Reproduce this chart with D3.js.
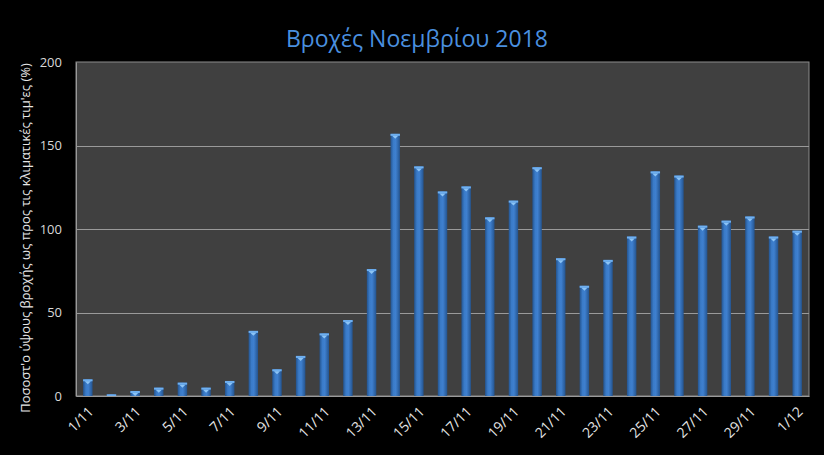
<!DOCTYPE html>
<html><head><meta charset="utf-8">
<script src="https://cdn.jsdelivr.net/npm/d3@7"></script>
<style>html,body{margin:0;padding:0;background:#000;}svg{display:block;}</style>
</head><body>
<svg id="chart" width="824" height="455"></svg>
<script>
const title = "Βροχές Νοεμβρίου 2018";
const yLabel = "Ποσοστ'ο ύψους βροχής ως προς τις κλιματικές τιμ'ες (%)";
const categories = ["1/11","2/11","3/11","4/11","5/11","6/11","7/11","8/11","9/11","10/11","11/11","12/11","13/11","14/11","15/11","16/11","17/11","18/11","19/11","20/11","21/11","22/11","23/11","24/11","25/11","26/11","27/11","28/11","29/11","30/11","1/12"];
const values = [10,1,3,5,8,5,9,39,16,24,37.5,45.5,76,157,137.5,122.5,125.5,107,117,137,82.5,66,81.5,95.5,134.5,132,102,105,107.5,95.5,99];
const yTicks = [0,50,100,150,200];

const svg = d3.select("#chart");
const m = {l:76, r:809, t:62, b:396};
const x = d3.scaleBand().domain(categories).range([m.l, m.r]).paddingInner(0.6).paddingOuter(0.3);
const y = d3.scaleLinear().domain([0,200]).range([m.b, m.t]);

const defs = svg.append("defs");
const g1 = defs.append("linearGradient").attr("id","barGrad").attr("x1","0").attr("x2","1").attr("y1","0").attr("y2","0");
g1.append("stop").attr("offset","0%").attr("stop-color","#24548f");
g1.append("stop").attr("offset","30%").attr("stop-color","#3a7bc8");
g1.append("stop").attr("offset","55%").attr("stop-color","#3f80cf");
g1.append("stop").attr("offset","100%").attr("stop-color","#24548f");

svg.append("rect").attr("x",0).attr("y",0).attr("width",824).attr("height",455).attr("fill","#000");
svg.append("text").attr("x",417).attr("y",47).attr("text-anchor","middle")
  .attr("font-family","'Open Sans', 'DejaVu Sans', sans-serif").attr("font-size",23)
  .attr("fill","#4a8fdf").text(title);

// plot area
svg.append("rect").attr("x",m.l).attr("y",m.t).attr("width",m.r-m.l).attr("height",m.b-m.t)
  .attr("fill","#404040").attr("stroke","#8c8c8c").attr("stroke-width",1);

// gridlines
svg.append("g").selectAll("line").data(yTicks.filter(d=>d>0 && d<200)).join("line")
  .attr("x1",m.l).attr("x2",m.r).attr("y1",d=>Math.round(y(d))+0.5).attr("y2",d=>Math.round(y(d))+0.5)
  .attr("stroke","#9a9a9a").attr("stroke-width",1);

// y axis
const yAxis = svg.append("g").attr("transform",`translate(${m.l},0)`)
  .call(d3.axisLeft(y).tickValues(yTicks).tickSize(0).tickPadding(14));
yAxis.select(".domain").attr("stroke","#9a9a9a");
yAxis.selectAll("text").attr("fill","#d8d8d8").attr("font-size",13)
  .attr("font-family","'Open Sans', 'DejaVu Sans', sans-serif");

// bars
const bars = svg.append("g").selectAll("g").data(values).join("g");
bars.append("rect")
  .attr("x",(d,i)=>x(categories[i])).attr("width",x.bandwidth())
  .attr("y",d=>y(d)).attr("height",d=>m.b - y(d))
  .attr("fill","url(#barGrad)");
bars.append("rect")
  .attr("x",(d,i)=>x(categories[i])).attr("width",x.bandwidth())
  .attr("y",d=>y(d)).attr("height",d=>Math.min(2, m.b-y(d)))
  .attr("fill","#6fb0f0");
bars.append("path")
  .attr("d",(d,i)=>{const cx = x(categories[i]) + x.bandwidth()/2; const t = y(d)+2;
    return `M${cx-3},${t}L${cx+3},${t}L${cx},${t+3}Z`;})
  .attr("fill","#8cc4f5")
  .attr("opacity",(d)=> (m.b-y(d))>5 ? 1 : 0);

// x axis
const xAxis = svg.append("g").attr("transform",`translate(0,${m.b})`)
  .call(d3.axisBottom(x).tickValues(categories.filter((c,i)=>i%2===0)).tickSize(0).tickPadding(0));
xAxis.select(".domain").attr("stroke","#9a9a9a");
xAxis.selectAll("text").attr("fill","#e6e6e6").attr("font-size",14)
  .attr("font-family","'Open Sans', 'DejaVu Sans', sans-serif")
  .attr("text-anchor","end").attr("y",0).attr("dy","0.35em")
  .attr("transform","translate(3,13) rotate(-45)");

// y label
svg.append("text")
  .attr("transform","translate(30,238) rotate(-90)")
  .attr("text-anchor","middle")
  .attr("font-family","'Open Sans', 'DejaVu Sans', sans-serif").attr("font-size",13)
  .attr("fill","#e6e6e6").text(yLabel);
</script>
</body></html>
